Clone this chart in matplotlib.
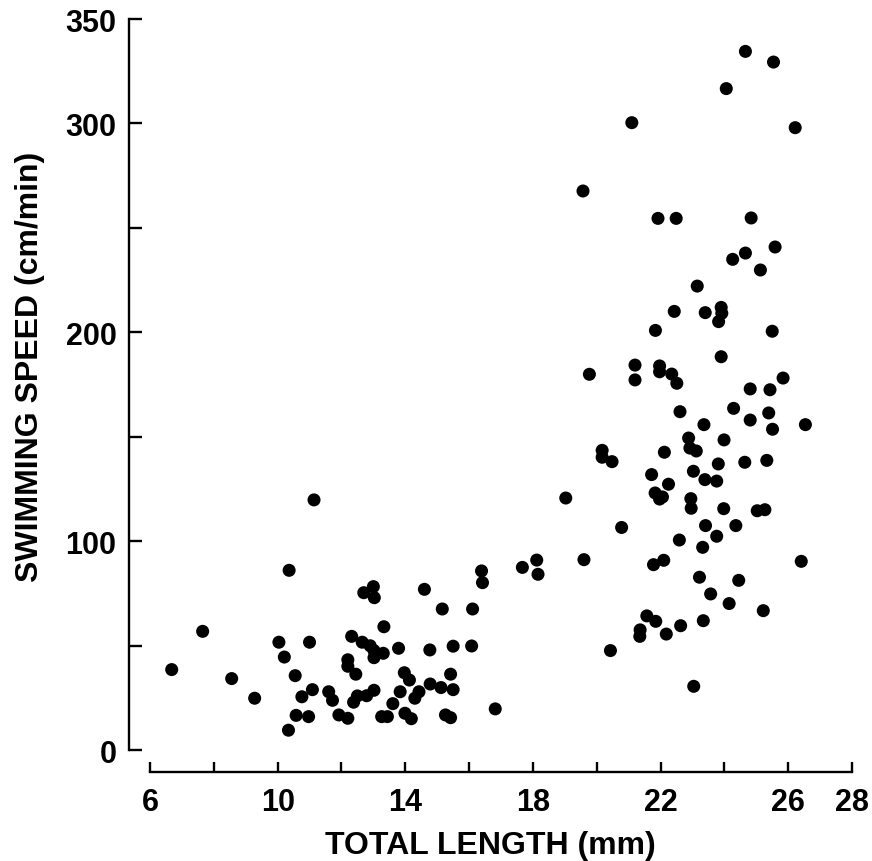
import matplotlib
matplotlib.use('Agg')
import matplotlib.pyplot as plt

# total length (mm) and swimming speed (cm/min)
total_length = [
    6.68, 7.65, 8.56, 9.28, 10.36, 10.04, 10.21, 10.55, 10.76, 10.58, 10.34,
    10.97, 11.00, 11.09, 11.14, 11.60, 11.72, 11.92, 12.20, 12.20, 12.20, 12.45,
    12.32, 12.38, 12.50, 12.79, 13.02, 12.70, 13.00, 13.03, 12.65, 12.90, 13.02,
    13.02, 13.31, 13.33, 13.26, 13.44, 13.61, 13.79, 13.84, 13.97, 14.13, 13.99,
    14.19, 14.30, 14.43, 14.60, 14.77, 14.78, 15.12, 15.16, 15.42, 15.50, 15.50,
    15.26, 15.42, 16.08, 16.11, 16.39, 16.42, 16.82,
    17.67, 18.12, 18.16, 19.03, 19.60, 20.78,
    24.66, 25.54, 24.06, 21.10, 26.22, 19.57, 21.92, 22.49, 24.84, 25.59, 24.66,
    24.26, 25.13, 23.15, 22.43, 23.40, 23.90, 23.92, 23.82, 21.84, 25.50, 23.90,
    19.77, 21.20, 21.20, 21.97, 21.97, 22.35, 22.51, 24.81, 25.43, 25.84,
    22.61, 24.29, 24.81, 25.39, 25.51, 26.54, 23.36, 22.88, 23.99, 22.92, 23.12,
    22.12, 20.17, 20.17, 20.48, 23.81, 24.64, 25.33, 21.72, 23.03, 23.39, 23.76,
    22.25, 21.83, 21.97, 22.06, 22.95, 22.96, 23.98, 25.03, 25.27, 23.41, 24.36,
    23.76, 22.59, 23.32, 22.10, 21.78, 26.41, 23.22, 24.45, 23.57, 24.15, 25.22,
    21.57, 21.85, 23.34, 22.63, 21.36, 21.35, 22.18, 20.43, 23.04,
]
swim_speed = [
    38.7, 57.0, 34.4, 25.0, 86.2, 51.8, 44.7, 35.8, 25.7, 16.8, 9.7,
    16.2, 51.8, 29.1, 119.9, 28.1, 24.0, 17.0, 15.4, 43.4, 40.3, 36.5,
    54.6, 23.1, 26.1, 26.2, 28.8, 75.5, 78.4, 73.1, 51.8, 50.1, 47.8,
    44.4, 46.5, 59.2, 16.2, 16.2, 22.4, 48.9, 28.1, 37.2, 33.7, 17.8,
    15.2, 25.0, 28.1, 77.1, 48.1, 31.8, 30.1, 67.7, 36.5, 49.9, 29.1,
    17.0, 15.7, 50.0, 67.7, 85.9, 80.3, 19.9,
    87.6, 91.1, 84.3, 120.8, 91.3, 106.7,
    334.5, 329.4, 316.7, 300.4, 298.0, 267.7, 254.6, 254.6, 254.8, 240.9, 238.0,
    235.0, 229.9, 222.2, 210.1, 209.5, 212.0, 209.2, 205.2, 201.0, 200.6, 188.4,
    180.0, 184.4, 177.3, 184.0, 181.2, 180.1, 175.7, 173.0, 172.6, 178.2,
    162.1, 163.7, 158.1, 161.5, 153.7, 155.9, 155.9, 149.5, 148.6, 144.7, 143.3,
    142.7, 143.6, 140.3, 138.2, 137.1, 137.9, 138.8, 132.0, 133.6, 129.6, 128.9,
    127.4, 123.2, 120.3, 121.3, 120.5, 115.9, 115.7, 114.7, 115.2, 107.6, 107.6,
    102.5, 100.7, 97.2, 91.0, 88.9, 90.5, 82.9, 81.4, 74.9, 70.3, 66.9,
    64.4, 61.8, 62.1, 59.7, 57.7, 54.6, 55.7, 47.8, 30.7,
]

x_ticks = [6, 10, 14, 18, 22, 26, 28]
x_minor = [8, 12, 16, 20, 24]
y_ticks = [0, 100, 200, 300, 350]
y_minor = [50, 150, 250]

plt.rcParams['font.family'] = ['Liberation Sans', 'DejaVu Sans']
plt.rcParams['font.weight'] = 'bold'

fig = plt.figure(figsize=(8.72, 8.62), dpi=100)
ax = fig.add_axes([129/872, 1 - 773/862, (852 - 129)/872, (773 - 20)/862])

ax.scatter(total_length, swim_speed, s=88, c='black', edgecolors='none',
           clip_on=False, zorder=3)

ax.set_xlim(5.342, 28)
ax.set_ylim(-10.3, 350)

for side in ('top', 'right'):
    ax.spines[side].set_visible(False)
ax.spines['left'].set_bounds(0, 350)
ax.spines['bottom'].set_bounds(6, 28)
ax.spines['left'].set_linewidth(1.7)
ax.spines['bottom'].set_linewidth(1.7)

ax.set_xticks(x_ticks)
ax.set_xticks(x_minor, minor=True)
ax.set_yticks(y_ticks)
ax.set_yticks(y_minor, minor=True)
ax.tick_params(which='both', direction='in', width=1.7, labelsize=22)
ax.tick_params(axis='y', which='both', length=9, pad=9)
ax.tick_params(axis='x', which='both', length=7.5, pad=11)
for lab in ax.get_xticklabels() + ax.get_yticklabels():
    lab.set_fontweight('bold')

ax.set_xlabel('TOTAL LENGTH (mm)', fontsize=23, fontweight='bold', labelpad=9)
fig.text(30/872, 1 - 367/862, 'SWIMMING SPEED (cm/min)', rotation=90,
         ha='center', va='center', fontsize=23, fontweight='bold')

fig.savefig('out.png', dpi=100, facecolor='white')
